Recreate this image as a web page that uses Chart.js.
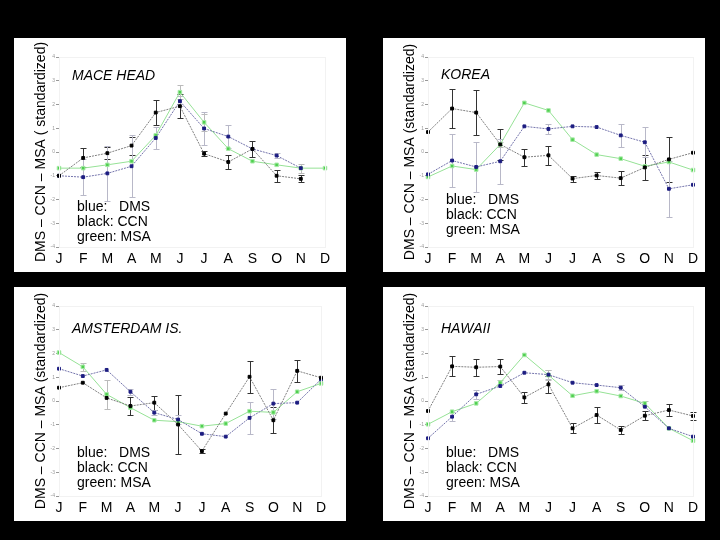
<!DOCTYPE html>
<html>
<head>
<meta charset="utf-8">
<script src="https://cdn.jsdelivr.net/npm/chart.js@4.4.0/dist/chart.umd.min.js"></script>
<style>
body { margin: 0; background: #000; width: 720px; height: 540px; overflow: hidden; }
canvas { position: absolute; background: #fff; }
</style>
</head>
<body>
<canvas id="maceHead" width="332" height="234" style="left:14px;top:38px"></canvas>
<canvas id="korea" width="322" height="234" style="left:383px;top:38px"></canvas>
<canvas id="amsterdam" width="332" height="234" style="left:14px;top:287px"></canvas>
<canvas id="hawaii" width="322" height="234" style="left:383px;top:287px"></canvas>
<script>
let months = ["J", "F", "M", "A", "M", "J", "J", "A", "S", "O", "N", "D"];

// mace head
let maceCCN = [-1.0, -0.25, -0.05, 0.27, 1.66, 1.93, -0.07, -0.42, 0.13, -1.0, -1.13, null];
let maceCCNErr = [0, 0.4, 0.25, 0.38, 0.53, 0.5, 0.1, 0.28, 0.32, 0.25, 0.15, 0];
let maceDMS = [-1.0, -1.06, -0.9, -0.6, 0.59, 2.14, 0.99, 0.65, 0.13, -0.15, -0.68, null];
let maceDMSErr = [0, 0.75, 1.15, 1.3, 0.46, 0.2, 0.68, 0.47, 0, 0.1, 0, 0];
let maceMSA = [-0.68, -0.68, -0.54, -0.39, 0.7, 2.52, 1.25, 0.14, -0.39, -0.54, -0.68, -0.68];
let maceMSAErr = [0, 0, 0, 0, 0, 0.3, 0.37, 0, 0, 0, 0.19, 0];

// korea
let koreaCCN = [0.84, 1.83, 1.66, 0.32, -0.22, -0.14, -1.12, -0.99, -1.10, -0.65, -0.31, -0.03];
let koreaCCNErr = [0, 0.83, 0.95, 0.66, 0.35, 0.4, 0.13, 0.15, 0.3, 0.52, 0.94, 0];
let koreaDMS = [-0.94, -0.36, -0.63, -0.39, 1.08, 0.97, 1.08, 1.05, 0.70, 0.41, -1.55, -1.38];
let koreaDMSErr = [0, 1.13, 1.05, 0.94, 0, 0.22, 0, 0, 0.5, 0.64, 1.17, 0];
let koreaMSA = [-1.05, -0.59, -0.74, 0.32, 2.07, 1.75, 0.52, -0.11, -0.28, -0.60, -0.42, -0.76];
let koreaMSAErr = [0, 0, 0, 0.1, 0, 0, 0, 0, 0, 0, 0, 0];

// amsterdam island
let amsCCN = [0.56, 0.77, 0.13, -0.21, -0.07, -0.99, -2.11, -0.53, 1.02, -0.81, 1.27, 0.98];
let amsCCNErr = [0, 0, 0, 0.39, 0.3, 1.23, 0.1, 0, 0.68, 0.54, 0.46, 0];
let amsDMS = [1.36, 1.05, 1.31, 0.39, -0.49, -0.78, -1.38, -1.50, -0.71, -0.11, -0.07, 0.91];
let amsDMSErr = [0, 0, 0, 0.13, 0.12, 0.18, 0, 0, 0.68, 0.63, 0, 0];
let amsMSA = [2.04, 1.44, 0.28, -0.28, -0.81, -0.87, -1.06, -0.95, -0.43, -0.48, 0.39, 0.74];
let amsMSAErr = [0, 0.17, 0.6, 0, 0, 0, 0, 0, 0, 0, 0, 0];

// hawaii
let hawCCN = [-0.42, 1.46, 1.42, 1.45, 0.15, 0.70, -1.15, -0.59, -1.22, -0.62, -0.38, -0.63];
let hawCCNErr = [0, 0.42, 0.36, 0.3, 0.24, 0.35, 0.21, 0.35, 0.18, 0.18, 0.25, 0.15];
let hawDMS = [-1.57, -0.66, 0.28, 0.63, 1.19, 1.11, 0.77, 0.67, 0.56, -0.24, -1.15, -1.50];
let hawDMSErr = [0, 0.2, 0.18, 0, 0, 0.2, 0, 0, 0.1, 0, 0, 0];
let hawMSA = [-0.98, -0.45, -0.10, 0.77, 1.94, 1.09, 0.22, 0.41, 0.21, -0.10, -1.15, -1.67];
let hawMSAErr = [0, 0, 0, 0.1, 0, 0.2, 0, 0, 0, 0.1, 0, 0];

let legendLines = ["blue:   DMS", "black: CCN", "green: MSA"];
let fontName = "'Liberation Sans', Arial, sans-serif";

// error bars drawn under the points, through the y scale
let errorBars = {
    id: "errorBars",
    beforeDatasetsDraw(chart) {
        let ctx = chart.ctx;
        let yScale = chart.scales.y;
        chart.data.datasets.forEach(function (ds, i) {
            let meta = chart.getDatasetMeta(i);
            ctx.save();
            ctx.strokeStyle = ds.errorColor;
            ctx.lineWidth = 1;
            meta.data.forEach(function (pt, j) {
                let v = ds.data[j];
                let e = ds.errors[j];
                if (v == null || !e) return;
                let top = Math.round(yScale.getPixelForValue(v + e)) + 0.5;
                let bot = Math.round(yScale.getPixelForValue(v - e)) + 0.5;
                let x = Math.round(pt.x) + 0.5;
                ctx.beginPath();
                ctx.moveTo(x, top); ctx.lineTo(x, bot);
                ctx.moveTo(x - 3, top); ctx.lineTo(x + 3, top);
                ctx.moveTo(x - 3, bot); ctx.lineTo(x + 3, bot);
                ctx.stroke();
            });
            ctx.restore();
        });
    }
};

// station name, text legend and the faint axes box
let panelText = {
    id: "panelText",
    afterDraw(chart, args, opts) {
        let ctx = chart.ctx;
        let a = chart.chartArea;
        ctx.save();
        ctx.strokeStyle = "#f2f2f2";
        ctx.lineWidth = 1;
        ctx.strokeRect(a.left + 0.5, a.top + 0.5, a.right - a.left, a.bottom - a.top);
        ctx.fillStyle = "#000";
        ctx.textBaseline = "middle";
        ctx.font = "italic 14px " + fontName;
        ctx.fillText(opts.name, opts.nameX, opts.nameY);
        ctx.font = "14px " + fontName;
        legendLines.forEach(function (line, i) {
            ctx.fillText(line, opts.legX, opts.legY + i * 15);
        });
        ctx.restore();
    }
};

function makePanel(id, rightPad, name, nameY, legY, ccn, ccnErr, dms, dmsErr, msa, msaErr, title) {
    let el = document.getElementById(id).getContext("2d");
    return new Chart(el, {
        type: "line",
        data: {
            labels: months,
            datasets: [
                {
                    label: "CCN", data: ccn, errors: ccnErr, errorColor: "#333",
                    borderColor: "#808080", borderWidth: 1, borderDash: [2, 1],
                    pointStyle: "rect", pointRadius: 2, pointBackgroundColor: "#000", pointBorderColor: "#000",
                    tension: 0
                },
                {
                    label: "DMS", data: dms, errors: dmsErr, errorColor: "#b8b8c8",
                    borderColor: "#7474ac", borderWidth: 1, borderDash: [2, 1],
                    pointStyle: "rect", pointRadius: 2, pointBackgroundColor: "#1c1c80", pointBorderColor: "#1c1c80",
                    tension: 0
                },
                {
                    label: "MSA", data: msa, errors: msaErr, errorColor: "#bbbbbb",
                    borderColor: "#96e296", borderWidth: 1,
                    pointStyle: "rect", pointRadius: 2.5, pointBackgroundColor: "#4fcf4f", pointBorderColor: "#a6eaa6",
                    pointBorderWidth: 1, tension: 0
                }
            ]
        },
        options: {
            responsive: false,
            devicePixelRatio: 1,
            animation: false,
            layout: { padding: { left: 14, right: rightPad, top: 19, bottom: 0 } },
            plugins: {
                legend: { display: false },
                tooltip: { enabled: false },
                panelText: { name: name, nameX: 58, nameY: nameY, legX: 63, legY: legY }
            },
            scales: {
                x: {
                    grid: { display: false, drawTicks: false },
                    border: { color: "#f2f2f2" },
                    ticks: { color: "#000", padding: 4, font: { family: fontName, size: 14 } },
                    afterFit: function (s) { s.height = 25; }
                },
                y: {
                    min: -4, max: 4,
                    grid: { drawOnChartArea: false, tickLength: 3, color: "#999" },
                    border: { color: "#f2f2f2" },
                    ticks: { stepSize: 1, color: "#999", padding: 1, font: { family: fontName, size: 5 } },
                    title: {
                        display: true, text: title, color: "#000",
                        font: { family: fontName, size: 14 }, padding: { top: 5, bottom: 0 }
                    },
                    afterFit: function (s) { s.width = 31; }
                }
            }
        },
        plugins: [errorBars, panelText]
    });
}

makePanel("maceHead", 21, "MACE HEAD", 38, 169, maceCCN, maceCCNErr, maceDMS, maceDMSErr, maceMSA, maceMSAErr,
    "DMS \u2013 CCN \u2013 MSA ( standardized)");
makePanel("korea", 12, "KOREA", 37, 162, koreaCCN, koreaCCNErr, koreaDMS, koreaDMSErr, koreaMSA, koreaMSAErr,
    "DMS \u2013 CCN \u2013 MSA (standardized)");
makePanel("amsterdam", 25, "AMSTERDAM IS.", 42, 166, amsCCN, amsCCNErr, amsDMS, amsDMSErr, amsMSA, amsMSAErr,
    "DMS \u2013 CCN \u2013 MSA (standardized)");
makePanel("hawaii", 12, "HAWAII", 42, 166, hawCCN, hawCCNErr, hawDMS, hawDMSErr, hawMSA, hawMSAErr,
    "DMS \u2013 CCN \u2013 MSA (standardized)");
</script>
</body>
</html>
